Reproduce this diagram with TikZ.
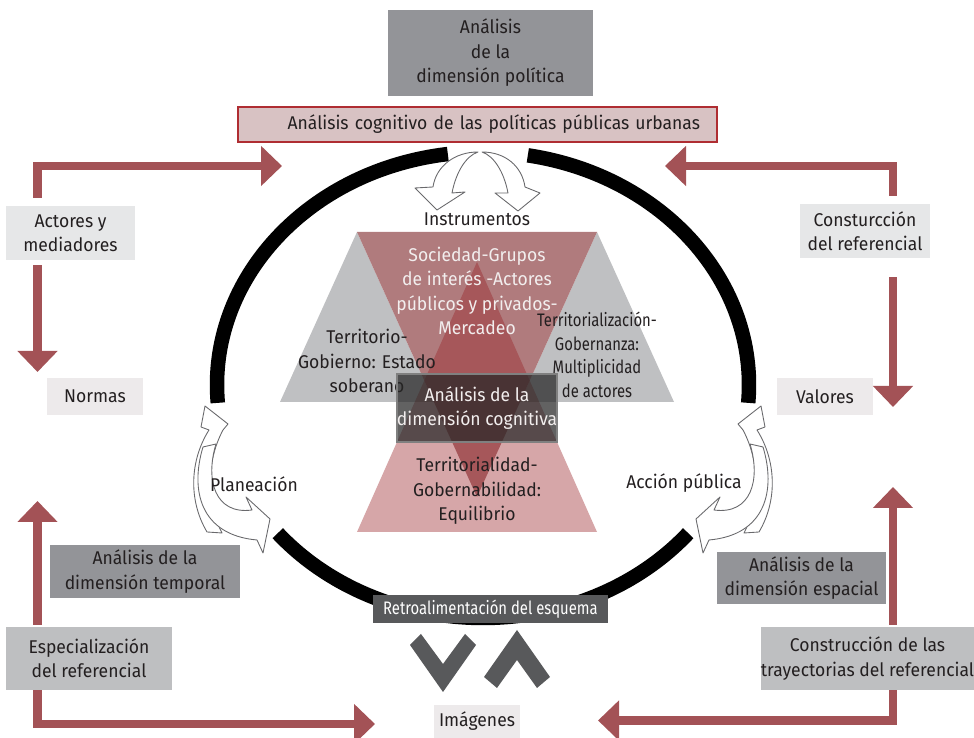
\documentclass[tikz,border=0pt]{standalone}
\usepackage{fontspec}
\setmainfont[FakeStretch=0.95]{Fira Sans}
\newfontfamily\condfont[FakeStretch=0.82]{Fira Sans}
\usetikzlibrary{arrows.meta,positioning,calc}
\definecolor{txtdark}{RGB}{35,31,32}
\definecolor{boxgray}{RGB}{147,148,152}
\definecolor{midgray}{RGB}{190,191,193}
\definecolor{tagfill}{RGB}{230,231,232}
\definecolor{leaffill}{RGB}{237,234,235}
\definecolor{darkbox}{RGB}{88,89,91}
\definecolor{arrowred}{RGB}{163,82,86}
\definecolor{barfill}{RGB}{216,194,195}
\definecolor{barline}{RGB}{175,45,50}
\definecolor{tripink}{RGB}{176,123,125}
\definecolor{triup}{RGB}{152,33,38}
\definecolor{trigray}{RGB}{191,192,194}
\definecolor{softwhite}{RGB}{242,238,238}
\definecolor{outline}{RGB}{105,105,108}
\newcommand{\txt}{\fontsize{10.5}{13.9}\selectfont}
\newcommand{\condtxt}{\condfont\fontsize{10.3}{13.4}\selectfont}

\begin{document}
\begin{tikzpicture}[
  every node/.style={font=\txt, text=txtdark, align=center, inner sep=0pt},
  dimbox/.style={fill=boxgray},
  refbox/.style={fill=midgray},
  tagbox/.style={fill=tagfill},
  leafbox/.style={fill=leaffill},
  redarrow/.style={-{Triangle[width=0.78cm,length=0.42cm]}, line width=0.17cm, draw=arrowred},
  ringline/.style={line width=0.29cm, draw=black},
  hollow/.style={fill=white, draw=outline, line width=0.5pt, line join=round}]
  \useasboundingbox (0,0) rectangle (19.48,14.76);

  % Political dimension and title bar
  \node[dimbox, minimum width=4.10cm, minimum height=1.72cm] (politica) at (9.81,13.70) {Análisis\\de la\\dimensión política};
  \node[fill=barfill, draw=barline, line width=0.6pt, text width=8.9cm, inner xsep=0.34cm, minimum height=0.70cm, align=right] (cognitivo) at (9.55,12.27) {Análisis cognitivo de las políticas públicas urbanas};

  % Ring
  \coordinate (ringc) at (9.66,7.06);
  \draw[ringline] (ringc) ++(97.6:5.32cm and 4.66cm) arc[start angle=97.6, end angle=184.4, x radius=5.32cm, y radius=4.66cm];
  \draw[ringline] (ringc) ++(219.5:5.32cm and 4.66cm) arc[start angle=219.5, end angle=320.5, x radius=5.32cm, y radius=4.66cm];
  \draw[ringline] (ringc) ++(-4.4:5.32cm and 4.66cm) arc[start angle=-4.4, end angle=80.3, x radius=5.32cm, y radius=4.66cm];

  % Instrumentos arrows
  \draw[hollow] (9.56,11.72) .. controls (9.10,11.72) and (8.72,11.44) .. (8.66,11.02) -- (8.30,11.00) -- (8.74,10.56) -- (9.30,10.92) -- (9.04,10.90) .. controls (9.12,11.32) and (9.32,11.64) .. (9.56,11.72) -- cycle;
  \draw[hollow] (9.64,11.72) .. controls (10.10,11.72) and (10.44,11.44) .. (10.50,11.02) -- (10.80,10.90) -- (10.36,10.54) -- (9.90,10.90) -- (10.16,10.90) .. controls (10.08,11.32) and (9.88,11.64) .. (9.64,11.72) -- cycle;

  % Planeacion / Accion publica arrows
  \foreach \flip/\shift in {1/0, -1/19.32} {
    \begin{scope}[xshift=\shift cm, xscale=\flip]
      \draw[hollow] (4.14,4.12) .. controls (3.76,4.76) and (3.80,5.56) .. (4.18,6.16) -- (4.02,6.22) -- (4.10,6.64) -- (4.56,6.28) -- (4.46,6.16) .. controls (4.14,5.56) and (4.10,4.76) .. (4.44,4.10) -- cycle;
      \draw[hollow] (4.06,5.82) .. controls (3.80,4.96) and (4.00,4.06) .. (5.14,3.96) -- (5.26,3.70) -- (5.40,4.38) -- (4.92,4.82) -- (5.04,4.56) .. controls (4.30,4.46) and (4.10,5.16) .. (4.32,5.88) -- cycle;
    \end{scope}
  }

  % Triangles
  \fill[trigray] (7.14,10.12) -- (5.60,6.72) -- (8.68,6.72) -- cycle;
  \fill[trigray] (11.94,10.12) -- (10.40,6.72) -- (13.48,6.72) -- cycle;
  \fill[tripink] (7.14,10.12) -- (11.94,10.12) -- (9.54,4.82) -- cycle;
  \fill[triup, fill opacity=0.4] (9.54,9.52) -- (7.14,4.12) -- (11.94,4.12) -- cycle;

  \node (instrumentos) at (9.54,10.38) {Instrumentos};
  \node[text=softwhite] (sociedad) at (9.54,8.94) {Sociedad-Grupos\\de interés -Actores\\públicos y privados-\\Mercadeo};
  \node (territorio) at (7.34,7.54) {Territorio-\\Gobierno: Estado\\soberano};
  \node[font=\condtxt] (territorializacion) at (11.94,7.66) {Territorialización-\\Gobernanza:\\Multiplicidad\\de actores};
  \node[fill=black!85, fill opacity=0.72, text opacity=1, draw=gray, draw opacity=1, line width=0.8pt, text=softwhite, minimum width=3.20cm, minimum height=1.36cm] (cognitiva) at (9.54,6.60) {Análisis de la\\dimensión cognitiva};
  \node (territorialidad) at (9.54,4.94) {Territorialidad-\\Gobernabilidad:\\Equilibrio};
  \node (planeacion) at (5.08,5.08) {Planeación};
  \node (accion) at (13.68,5.10) {Acción pública};

  % Left column
  \node[tagbox, minimum width=2.58cm, minimum height=1.08cm] (actores) at (1.41,10.10) {Actores y\\mediadores};
  \node[leafbox, minimum width=1.92cm, minimum height=0.74cm] (normas) at (1.90,6.83) {Normas};
  \node[dimbox, minimum width=3.80cm, minimum height=1.06cm] (temporal) at (2.90,3.33) {Análisis de la\\dimensión temporal};
  \node[refbox, minimum width=3.32cm, minimum height=1.26cm] (especializacion) at (1.78,1.59) {Especialización\\del referencial};

  % Right column
  \node[tagbox, minimum width=2.60cm, minimum height=1.08cm] (construccion) at (17.30,10.14) {Consturcción\\del referencial};
  \node[leafbox, minimum width=1.92cm, minimum height=0.74cm] (valores) at (16.50,6.82) {Valores};
  \node[dimbox, minimum width=3.38cm, minimum height=1.04cm] (espacial) at (16.03,3.20) {Análisis de la\\dimensión espacial};
  \node[refbox, minimum width=4.18cm, minimum height=1.26cm] (trayectorias) at (17.35,1.59) {Construcción de las\\trayectorias del referencial};

  % Bottom
  \node[leafbox, minimum width=1.72cm, minimum height=0.66cm] (imagenes) at (9.54,0.33) {Imágenes};
  \node[fill=darkbox, text=white, font=\condtxt, minimum width=4.70cm, minimum height=0.56cm] (retro) at (9.81,2.58) {Retroalimentación del esquema};
  \fill[darkbox] (8.20,1.86) -- (8.42,2.08) -- (8.86,1.48) -- (9.30,2.08) -- (9.52,1.86) -- (8.86,0.92) -- cycle;
  \fill[darkbox] (9.68,1.22) -- (10.34,2.16) -- (11.00,1.22) -- (10.74,1.00) -- (10.34,1.56) -- (9.94,1.00) -- cycle;

  % Red arrows
  \coordinate (nwtip) at (5.64,11.44);
  \coordinate (normtip) at (0.75,7.32);
  \coordinate (netip) at (13.30,11.44);
  \coordinate (valtip) at (17.86,6.62);
  \coordinate (swtip) at (0.75,4.74);
  \coordinate (imgtipw) at (7.50,0.28);
  \coordinate (setip) at (17.86,5.02);
  \coordinate (imgtipe) at (11.96,0.35);
  \draw[redarrow] ([xshift=-0.66cm,yshift=0.16cm]actores.north) |- (nwtip);
  \draw[redarrow] ([xshift=-0.66cm,yshift=-0.10cm]actores.south) -- (normtip);
  \draw[redarrow] ([xshift=0.56cm,yshift=0.16cm]construccion.north) |- (netip);
  \draw[redarrow] ([xshift=0.56cm,yshift=-0.38cm]construccion.south) -- (valtip);
  \draw[redarrow] ([xshift=-1.03cm,yshift=0.04cm]especializacion.north) -- (swtip);
  \draw[redarrow] ([xshift=-1.03cm]especializacion.south) |- (imgtipw);
  \draw[redarrow] ([xshift=0.51cm,yshift=0.04cm]trayectorias.north) -- (setip);
  \draw[redarrow] ([xshift=0.51cm]trayectorias.south) |- (imgtipe);
\end{tikzpicture}
\end{document}
